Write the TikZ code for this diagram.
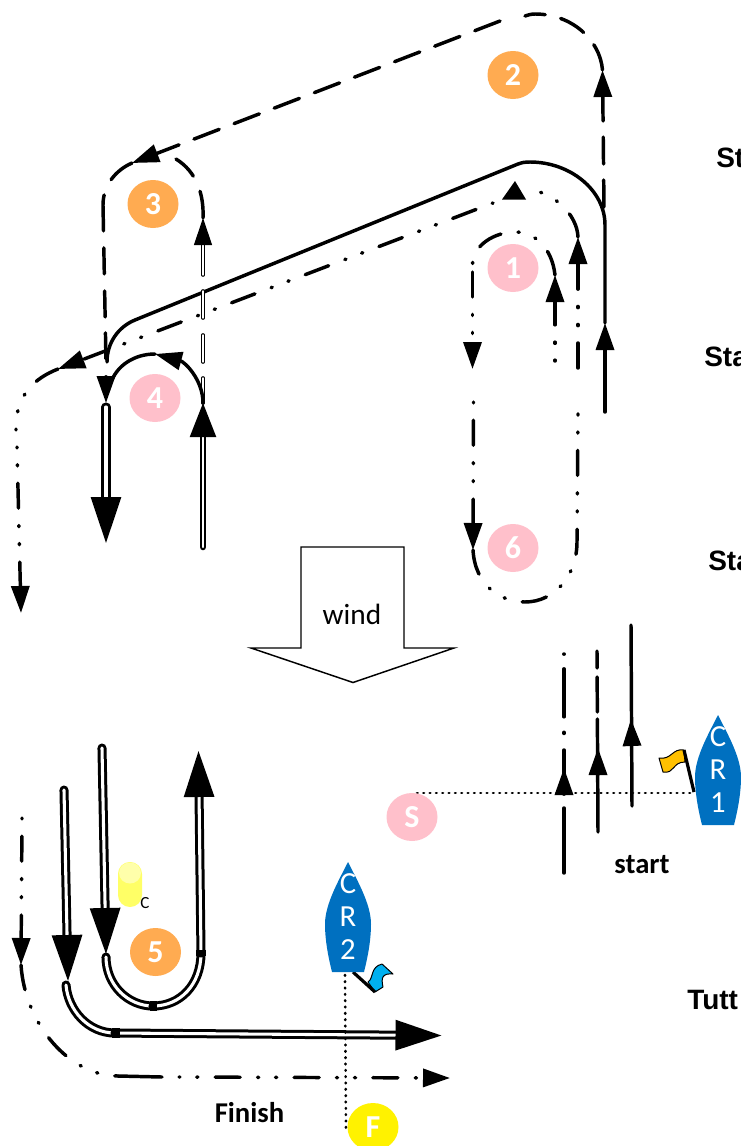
\documentclass[tikz,border=0pt]{standalone}
\usepackage{fontspec}
\setmainfont{Carlito}
\newfontfamily\headfont{Liberation Sans}
\usetikzlibrary{arrows.meta,shapes.geometric}
\definecolor{orangemark}{HTML}{FFAB51}
\definecolor{pinkmark}{HTML}{FFC0CB}
\definecolor{boatblue}{HTML}{0070C0}
\definecolor{flagyellow}{HTML}{FFC000}
\definecolor{flagblue}{HTML}{00B0F0}
\definecolor{buoy}{HTML}{FFFF66}
\definecolor{buoytop}{HTML}{FFFFAA}
\tikzset{
  track/.style={draw=black,line width=2.6pt,line cap=round,line join=round},
  ddash/.style={track,dash pattern=on 18.75pt off 13pt on 0.9pt off 12.6pt on 0.9pt off 13pt},
  ldash/.style={track,dash pattern=on 20.25pt off 12pt},
  firstdot/.style={dash phase=32pt},
  seconddot/.style={dash phase=45.5pt},
  dblB/.style={draw=black,line width=2.25pt,double=white,double distance=2.3pt,line cap=round},
  dblA/.style={draw=black,line width=1.65pt,double=white,double distance=1.6pt,line cap=round},
  dblT/.style={draw=black,line width=0.85pt,double=white,double distance=1.05pt,line cap=round},
  joint/.style={draw=black,line width=6.8pt,line cap=butt},
  arrS/.style={-{Triangle[length=20.25pt,width=13.5pt]}},
  arrM/.style={-{Triangle[length=25.5pt,width=19.5pt]}},
  arrL/.style={-{Triangle[length=34.5pt,width=22.5pt]}},
  dotline/.style={draw=black,line width=2pt,line cap=round,dash pattern=on 0.5pt off 4.25pt},
  mark/.style={ellipse,fill=#1,minimum width=38.25pt,minimum height=36pt,inner sep=0pt,text=white,font=\fontsize{24}{26}\selectfont\bfseries},
  boatletter/.style={text=white,inner sep=0pt,font=\fontsize{23}{24}\selectfont},
  caption/.style={anchor=base,inner sep=0pt,font=\fontsize{21.5}{22}\selectfont\bfseries},
  stage/.style={anchor=base west,inner sep=0pt,font=\headfont\fontsize{21}{22}\selectfont\bfseries},
}
\newcommand\drawboat[4]{%
  \begin{scope}[shift={(#1,#2)}]
    \fill[boatblue] (0,0) .. controls (-9,18) and (-23,42) .. (-23,62)
      .. controls (-23,80) and (-19,98) .. (-16,110) -- (16,110)
      .. controls (19,98) and (23,80) .. (23,62)
      .. controls (23,42) and (9,18) .. (0,0) -- cycle;
    \node[boatletter] (#3c) at (0,22) {C};
    \node[boatletter] (#3r) at (0,55) {R};
    \node[boatletter] (#3d) at (0,88) {#4};
  \end{scope}}
\begin{document}
\begin{tikzpicture}[x=0.75pt,y=-0.75pt]
\useasboundingbox (0,0) rectangle (740,1146);
% named waypoints
\coordinate (sA) at (605,412);  \coordinate (tA) at (605,323);
\coordinate (tB) at (602.5,70);
\coordinate (tC) at (132,163);
\coordinate (tD) at (106,403);
\coordinate (tE) at (203,403);
\coordinate (tF) at (155,354);
\coordinate (tG) at (203,218);
\coordinate (t1) at (555,275);
\coordinate (t2) at (472.5,369);
\coordinate (t3) at (473,550);
\coordinate (t4) at (578,413);
\coordinate (t5) at (578,237);
\coordinate (t6) at (58,369);
\coordinate (t7) at (21,965);
% solid track
\draw[track,arrS] (sA) -- (tA);
\draw[track] (tA) -- (605,225) .. controls (605,190) and (570,162) .. (530,162)
  .. controls (525,162) and (522,162.5) .. (518,164) -- (135,320)
  .. controls (118,327) and (107,343) .. (107,362);
% long dashed track
\draw[ldash,arrS] (604,207) -- (tB);
\draw[ldash] (tB) .. controls (600,40) and (572,14) .. (535,14) .. controls (531,14) and (528,15) .. (525,16);
\draw[ldash,arrS] (500,21) -- (tC);
\draw[track,dash pattern=on 20.25pt off 12.5pt on 20pt] (tG) .. controls (204,195) and (197,172) .. (176,159);
\draw[track,dash pattern=on 20.25pt off 12.75pt on 27pt off 12.75pt on 19.5pt off 12.75pt on 19.5pt off 12pt on 19.5pt]
  (tC) .. controls (116,170) and (103,185) .. (103,205) -- (106,362);
\draw[track,arrS] (106,380) -- (tD);
% double tracks around mark 4
\draw[dblB,arrL] (106,407) -- (106,543);
\draw[dblA,arrM] (203,547) -- (tE);
\draw[dblT,arrS,dash pattern=on 18.75pt off 12pt on 20.25pt off 12.75pt on 20.25pt off 12pt on 30pt] (tE) -- (tG);
\draw[track,arrS] (tE) .. controls (203,380) and (185,362) .. (tF);
\draw[track] (tF) .. controls (135,354) and (116,365) .. (110,385);
% dash dot dot track
\draw[ddash,firstdot,arrS] (555,361) -- (t1);
\draw[ddash] (t1) .. controls (552,248) and (535,232) .. (515,232) .. controls (495,232) and (472,245) .. (472.5,266);
\draw[ddash,arrS] (472.5,272) -- (t2);
\draw[ddash,seconddot,arrS] (473.5,402) -- (t3);
\draw[ddash] (t3) .. controls (475,585) and (500,602) .. (525,602) .. controls (555,602) and (577,575) .. (577,542) -- (t4);
\draw[ddash,arrS] (578,368) -- (t5);
\draw[ddash] (t5) .. controls (577,215) and (555,192) .. (526,189);
\fill (515,181) -- (502,199.5) -- (526,199.5) -- cycle;
\draw[ddash,seconddot,arrS] (493,203) -- (t6);
\draw[ddash] (t6) .. controls (35,378) and (15,395) .. (16,430);
\draw[ddash,firstdot,arrS] (17,447) -- (21,613);
\draw[ddash,seconddot,arrS] (22,818) -- (t7);
\draw[ddash] (t7) .. controls (25,1025) and (70,1076) .. (118,1076);
\draw[track] (118,1076) -- (162,1077);
\draw[ddash,firstdot,arrS] (179,1077) -- (450,1078);
% start lines
\draw[track,dash pattern=on 48.75pt off 12pt on 31.5pt off 12.4pt on 0.9pt off 11.6pt on 36pt off 11pt on 0.9pt] (564,873) -- (564,654);
\draw[track,arrS] (564,792) -- (564,768);
\draw[track,dash pattern=on 84.75pt off 5.25pt on 26.25pt off 6.75pt on 12.75pt] (598,832) -- (597,651);
\draw[track,arrS] (598,770) -- (598,748);
\draw[track] (632,806) -- (631,625);
\draw[track,arrS] (632,745) -- (631,719);
% bottom double tracks
\draw[dblB,arrL] (102,748) -- (106,954);
\draw[dblB] (106,957) .. controls (106,985) and (128,1006) .. (153,1006);
\draw[dblB] (153,1006) .. controls (180,1006) and (201,985) .. (201,953);
\draw[dblB,arrL] (201,953) -- (198.5,751);
\draw[dblB,arrL] (64,790) -- (68,981);
\draw[dblB] (66,985) .. controls (68,1010) and (88,1033) .. (115,1033);
\draw[dblB,arrL] (115,1033) -- (441.5,1035.5);
\draw[joint] (149.5,1006) -- (156.5,1006);
\draw[joint] (201,949.5) -- (201,956);
\draw[joint] (111.5,1033) -- (119.5,1033);
% dotted lines
\draw[dotline] (417,793) -- (692,793);
\draw[dotline] (345,975) -- (346,1133);
% wind arrow
\draw[line width=1.1pt,line join=miter,fill=white] (301,547) -- (404,547) -- (404,648) -- (454,648) -- (353,682.5) -- (251,648) -- (301,648) -- cycle;
\node[inner sep=0pt,font=\fontsize{22}{23}\selectfont] (wind) at (352,614) {wind};
% marks
\node[mark=orangemark] (m2) at (513,75) {2};
\node[mark=orangemark] (m3) at (153,204) {3};
\node[mark=pinkmark] (m1) at (513,268) {1};
\node[mark=pinkmark] (m4) at (155,398) {4};
\node[mark=pinkmark] (m6) at (513,548) {6};
\node[mark=orangemark] (m5) at (155.5,952) {5};
\node[mark=pinkmark] (mS) at (412,817) {S};
\node[mark=yellow] (mF) at (373,1127) {F};
% buoy
\fill[buoy,rounded corners=8.9pt] (118,862) rectangle (142,907);
\fill[buoytop] (130,873) ellipse (11 and 10.5);
\node[inner sep=0pt,font=\fontsize{12.75}{14}\selectfont] (cmark) at (145,903) {C};
% boats and flags
\draw[black,line width=0.75pt,fill=flagyellow,line join=round] (684,750) .. controls (672,748) and (672,760) .. (659,758)
  -- (663,772) .. controls (675,774) and (672,762) .. (685,762) -- cycle;
\draw[black,line width=2.4pt] (684,750) -- (694,792);
\drawboat{718}{715}{cra}{1}
\draw[black,line width=0.75pt,fill=flagblue,line join=round] (368,982) .. controls (374,978) and (370,967) .. (382,964)
  -- (393,974) .. controls (382,973) and (381,978) .. (383,987) -- (375,992) -- cycle;
\draw[black,line width=2.4pt] (353,972) -- (375,992);
\drawboat{348}{862}{crb}{2}
% texts
\node[caption] (start) at (642,873) {start};
\node[caption] (finish) at (249.5,1122) {Finish};
\node[stage] (s1) at (716,167) {St};
\node[stage] (s2) at (704,366) {Sta};
\node[stage] (s3) at (708,570) {Sta};
\node[stage] (s4) at (687,1009) {Tutt};
\end{tikzpicture}
\end{document}
